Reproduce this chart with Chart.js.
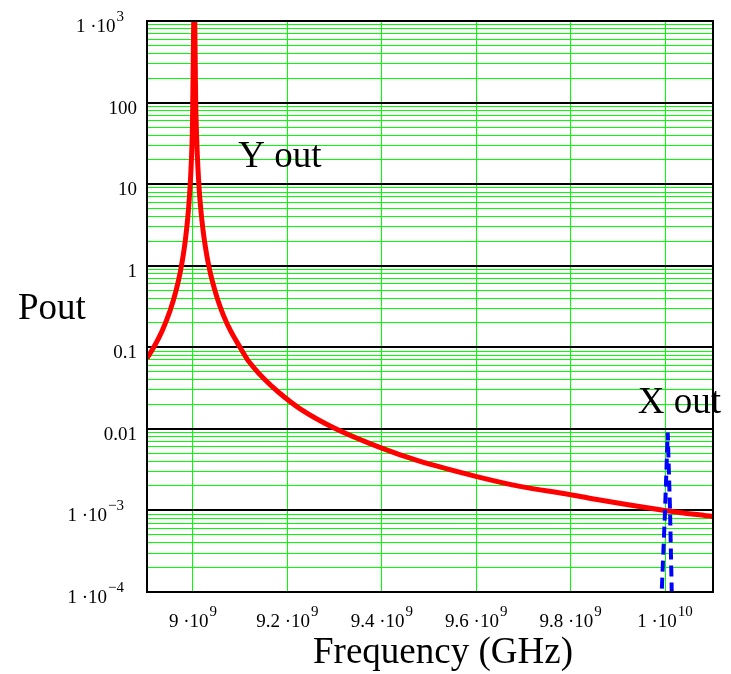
<!DOCTYPE html>
<html>
<head>
<meta charset="utf-8">
<script src="https://cdn.jsdelivr.net/npm/chart.js@4/dist/chart.umd.min.js"></script>
<style>
  html, body { margin: 0; padding: 0; background: #fff; }
  canvas { display: block; }
</style>
</head>
<body>
<canvas id="chart" width="731" height="674"></canvas>
<script>
// Y out (red, solid) - frequency in Hz, output power
const yOutFreq = [
  8.9026e9, 8.91809e9, 8.93502e9, 8.95196e9, 8.96465e9, 8.97312e9, 8.97947e9, 8.98370e9,
  8.98794e9, 8.99111e9, 8.99428e9, 8.99640e9, 8.99852e9, 8.99950e9, 9.00275e9,
  9.00582e9, 9.00741e9, 9.00910e9, 9.01185e9, 9.01439e9, 9.01756e9, 9.02180e9, 9.02603e9,
  9.03238e9, 9.04085e9, 9.05143e9, 9.06413e9, 9.07894e9, 9.10010e9, 9.1150e9, 9.1283e9,
  9.1494e9, 9.1826e9, 9.2271e9, 9.2969e9, 9.4000e9, 9.4747e9, 9.6011e9, 9.6927e9,
  9.8000e9, 9.8620e9, 9.9993e9, 10.1016e9
];
const yOutPower = [
  0.073, 0.103, 0.161, 0.286, 0.509, 0.84, 1.36, 2.04,
  3.37, 5.45, 10.3, 18.3, 41, 98, 2000,
  100, 43, 23.3, 11.4, 6.9, 4.29, 2.59, 1.74,
  1.07, 0.65, 0.40, 0.25, 0.162, 0.099, 0.0712, 0.0569,
  0.0418, 0.0277, 0.0176, 0.0104, 0.0058, 0.0041, 0.0026, 0.00197,
  0.00156, 0.00134, 0.001, 0.00084
];

// X out (blue, dashed)
const xOutFreq = [9.9900e9, 9.9930e9, 1.0000e10, 1.00057e10, 1.00106e10, 1.00142e10, 1.0017e10];
const xOutPower = [1e-5, 1e-4, 1e-3, 9e-3, 1e-3, 1e-4, 1e-5];

// axis ticks
const xTickValues = [9e9, 9.2e9, 9.4e9, 9.6e9, 9.8e9, 1e10];
const xTickMantissa = ['9', '9.2', '9.4', '9.6', '9.8', '1'];
const xTickExponent = ['9', '9', '9', '9', '9', '10'];

const yTickValues = [1e3, 100, 10, 1, 0.1, 0.01, 1e-3, 1e-4];
const yTickMantissa = ['1', '100', '10', '1', '0.1', '0.01', '1', '1'];
const yTickExponent = ['3', '', '', '', '', '', '\u22123', '\u22124'];
const yMinorSteps = [2, 3, 4, 5, 6, 7, 8, 9];

// trace labels, anchored in data space (left edge, baseline)
const traceLabels = ['Y out', 'X out'];
const traceLabelFreq = [9.0959e9, 9.9424e9];
const traceLabelPower = [16, 0.0155];

const SERIF = "'Liberation Serif', 'Times New Roman', serif";

function isDecade(v) {
  const l = Math.log10(v);
  return Math.abs(l - Math.round(l)) < 1e-9;
}

// "m ·10" with a raised exponent
function drawPowerText(ctx, mant, exp, x, baseline, align) {
  const base = exp ? mant + ' \u00b710' : mant;
  ctx.font = '19px ' + SERIF;
  const wb = ctx.measureText(base).width;
  ctx.font = '15px ' + SERIF;
  const we = exp ? ctx.measureText(exp).width + 1 : 0;
  const total = wb + we;
  let left = x;
  if (align === 'center') left = x - total / 2;
  if (align === 'right') left = x - total;
  ctx.textAlign = 'left';
  ctx.textBaseline = 'alphabetic';
  ctx.font = '19px ' + SERIF;
  ctx.fillText(base, left, baseline);
  if (exp) {
    ctx.font = '15px ' + SERIF;
    ctx.fillText(exp, left + wb + 1, baseline - 11);
  }
}

const textPlugin = {
  id: 'mathcadText',
  afterDraw(chart) {
    const ctx = chart.ctx;
    const area = chart.chartArea;
    const xs = chart.scales.x;
    const ys = chart.scales.y;
    ctx.save();
    ctx.fillStyle = '#000';

    // frame
    ctx.strokeStyle = '#000';
    ctx.lineWidth = 2;
    ctx.strokeRect(area.left, area.top, area.right - area.left, area.bottom - area.top);

    xTickValues.forEach((v, i) => {
      drawPowerText(ctx, xTickMantissa[i], xTickExponent[i], xs.getPixelForValue(v), area.bottom + 35, 'center');
    });
    yTickValues.forEach((v, i) => {
      const right = yTickExponent[i] ? area.left - 23 : area.left - 10;
      drawPowerText(ctx, yTickMantissa[i], yTickExponent[i], right, ys.getPixelForValue(v) + 11, 'right');
    });

    ctx.font = '37px ' + SERIF;
    ctx.textBaseline = 'alphabetic';
    ctx.textAlign = 'left';
    ctx.fillText('Pout', 18, (area.top + area.bottom) / 2 + 12);
    ctx.textAlign = 'center';
    ctx.fillText('Frequency (GHz)', (area.left + area.right) / 2 + 13, 663);

    ctx.textAlign = 'left';
    traceLabels.forEach((t, i) => {
      ctx.fillText(t, xs.getPixelForValue(traceLabelFreq[i]), ys.getPixelForValue(traceLabelPower[i]));
    });
    ctx.restore();
  }
};

new Chart(document.getElementById('chart'), {
  type: 'line',
  data: {
    datasets: [{
      label: 'Y out',
      data: yOutFreq.map((f, i) => ({ x: f, y: yOutPower[i] })),
      borderColor: '#ff0000',
      borderWidth: 5,
      pointRadius: 0,
      cubicInterpolationMode: 'monotone',
      clip: 0,
      order: 1
    }, {
      label: 'X out',
      data: xOutFreq.map((f, i) => ({ x: f, y: xOutPower[i] })),
      borderColor: '#0000ff',
      borderWidth: 4,
      borderDash: [11, 6],
      pointRadius: 0,
      tension: 0,
      clip: 0,
      order: 0
    }]
  },
  options: {
    responsive: false,
    animation: false,
    layout: { padding: { top: 21, right: 18, left: 0, bottom: 0 } },
    plugins: {
      legend: { display: false },
      tooltip: { enabled: false }
    },
    scales: {
      x: {
        type: 'linear',
        min: 8.9026e9,
        max: 10.1016e9,
        afterBuildTicks: s => { s.ticks = xTickValues.map(v => ({ value: v })); },
        afterFit: s => { s.height = 82; },
        ticks: { display: false },
        border: { display: false },
        grid: { color: '#00ff00', lineWidth: 1, drawTicks: false }
      },
      y: {
        type: 'logarithmic',
        min: 1e-4,
        max: 1e3,
        afterBuildTicks: s => {
          const ticks = [];
          yTickValues.slice().reverse().forEach(d => {
            ticks.push({ value: d, major: true });
            if (d < 1e3) yMinorSteps.forEach(m => ticks.push({ value: d * m }));
          });
          s.ticks = ticks;
        },
        afterFit: s => { s.width = 147; },
        ticks: { display: false },
        border: { display: false },
        grid: {
          color: c => (c.tick && isDecade(c.tick.value)) ? '#000000' : '#00ff00',
          lineWidth: c => (c.tick && isDecade(c.tick.value)) ? 2 : 1,
          drawTicks: false
        }
      }
    }
  },
  plugins: [textPlugin]
});
</script>
</body>
</html>
